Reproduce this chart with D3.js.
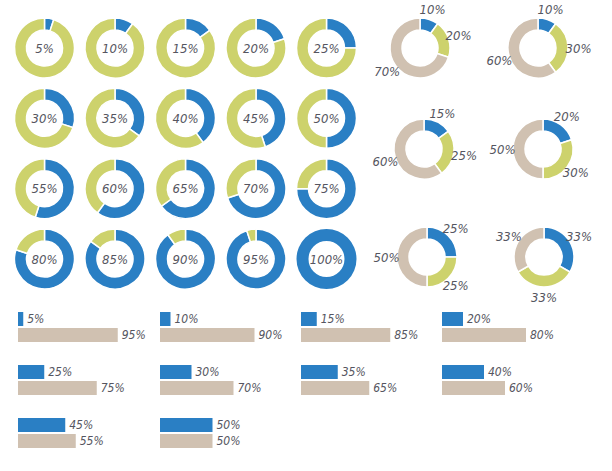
<!DOCTYPE html>
<html>
<head>
<meta charset="utf-8">
<script src="https://cdn.jsdelivr.net/npm/d3@7"></script>
<style>
  html, body { margin: 0; padding: 0; background: #fff; }
  svg { display: block; }
  text { font-family: "DejaVu Sans Condensed", "Liberation Sans Narrow", sans-serif; font-style: italic; fill: #555560; }
</style>
</head>
<body>
<svg id="chart" width="612" height="471"></svg>
<script>
// ---- data ----
const gridValues = [5, 10, 15, 20, 25, 30, 35, 40, 45, 50, 55, 60, 65, 70, 75, 80, 85, 90, 95, 100];
const tripleBlue  = [10, 10, 15, 20, 25, 33];
const tripleGreen = [20, 30, 25, 30, 25, 33];
const tripleBeige = [70, 60, 60, 50, 50, 33];
const barBlue  = [5, 10, 15, 20, 25, 30, 35, 40, 45, 50];
const barBeige = [95, 90, 85, 80, 75, 70, 65, 60, 55, 50];

// ---- style ----
const BLUE = "#2a7fc4", GREEN = "#cdd26c", BEIGE = "#d0c1b1";
const svg = d3.select("#chart");

const pie = d3.pie().sort(null).value(d => d.v);
const arc = d3.arc().innerRadius(18).outerRadius(30);
const labelArc = d3.arc().innerRadius(40.5).outerRadius(40.5);

// ---- 5x4 grid of single-value donuts ----
const gx = d3.scaleLinear().domain([0, 4]).range([44.5, 326.5]);
const gy = d3.scaleLinear().domain([0, 3]).range([48, 259]);

gridValues.forEach((v, i) => {
  const g = svg.append("g").attr("transform", `translate(${gx(i % 5)},${gy(Math.floor(i / 5))})`);
  const parts = [{v: v, c: BLUE}, {v: 100 - v, c: GREEN}].filter(d => d.v > 0);
  g.selectAll("path").data(pie(parts)).join("path")
    .attr("d", arc)
    .attr("fill", d => d.data.c)
    .attr("stroke", parts.length > 1 ? "#fff" : "none")
    .attr("stroke-width", 1.5);
  g.append("text").attr("text-anchor", "middle").attr("dy", "0.36em")
    .attr("font-size", 13).text(v + "%");
});

// ---- 3x2 triple donuts ----
const tripleCenters = [[420, 48], [538, 48], [424, 149], [543, 149], [427, 257], [544, 257]];
tripleBlue.forEach((b, i) => {
  const [cx, cy] = tripleCenters[i];
  const g = svg.append("g").attr("transform", `translate(${cx},${cy})`);
  const parts = [{v: b, c: BLUE}, {v: tripleGreen[i], c: GREEN}, {v: tripleBeige[i], c: BEIGE}];
  const arcs = pie(parts);
  g.selectAll("path").data(arcs).join("path")
    .attr("d", arc)
    .attr("fill", d => d.data.c)
    .attr("stroke", "#fff")
    .attr("stroke-width", 1.5);
  g.selectAll("text").data(arcs).join("text")
    .attr("transform", d => `translate(${labelArc.centroid(d)})`)
    .attr("text-anchor", "middle").attr("dy", "0.36em")
    .attr("font-size", 13)
    .text(d => d.data.v + "%");
});

// ---- bars ----
const bx = d3.scaleLinear().domain([0, 100]).range([0, 105]);
const barCols = [18, 160, 301, 442];
const barRows = [312, 365, 418];
barBlue.forEach((b, i) => {
  const x0 = barCols[i % 4], y0 = barRows[Math.floor(i / 4)];
  const g = svg.append("g").attr("transform", `translate(${x0},${y0})`);
  g.append("rect").attr("x", 0).attr("y", 0).attr("width", bx(b)).attr("height", 14).attr("fill", BLUE);
  g.append("rect").attr("x", 0).attr("y", 16).attr("width", bx(barBeige[i])).attr("height", 14).attr("fill", BEIGE);
  g.append("text").attr("x", bx(b) + 4).attr("y", 7).attr("dy", "0.36em")
    .attr("font-size", 12).text(b + "%");
  g.append("text").attr("x", bx(barBeige[i]) + 4).attr("y", 23).attr("dy", "0.36em")
    .attr("font-size", 12).text(barBeige[i] + "%");
});
</script>
</body>
</html>
